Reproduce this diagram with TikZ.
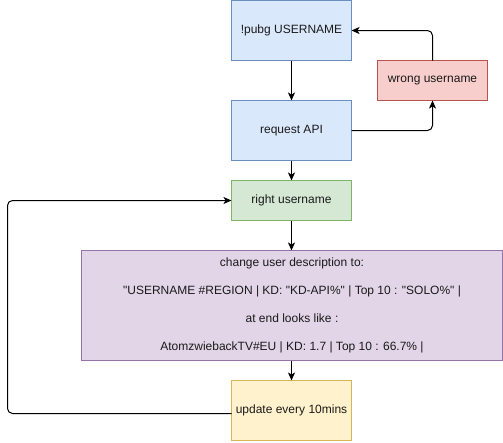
\documentclass[tikz,border=0pt]{standalone}
\usepackage{fontspec}
\setmainfont{Liberation Sans}[Ligatures=TeXOff]
\usetikzlibrary{arrows.meta}
\definecolor{bluef}{HTML}{DAE8FC}\definecolor{blued}{HTML}{6C8EBF}
\definecolor{redf}{HTML}{F8CECC}\definecolor{redd}{HTML}{B85450}
\definecolor{greenf}{HTML}{D5E8D4}\definecolor{greend}{HTML}{82B366}
\definecolor{purpf}{HTML}{E1D5E7}\definecolor{purpd}{HTML}{9673A6}
\definecolor{yelf}{HTML}{FFF2CC}\definecolor{yeld}{HTML}{D6B656}
\definecolor{txt}{HTML}{1A1A1A}
\tikzset{
  box/.style={draw, line width=1pt, inner sep=0pt, outer sep=0pt, align=center,
    font=\fontsize{12}{14}\selectfont, text=txt},
  conn/.style={line width=1pt, rounded corners=5pt, -{Stealth[length=8pt,width=7pt,inset=2pt]}}
}
\begin{document}
\begin{tikzpicture}[x=1pt,y=-1pt]
\useasboundingbox (0,0) rectangle (503,442);
\node[box, fill=bluef, draw=blued, minimum width=120pt, minimum height=60pt] (pubg) at (291.5,30.5) {!pubg USERNAME};
\node[box, fill=bluef, draw=blued, minimum width=120pt, minimum height=60pt] (req) at (291.5,130.5) {request API};
\node[box, fill=redf, draw=redd, minimum width=110pt, minimum height=40pt] (wrong) at (432.5,80.5) {wrong username};
\node[box, fill=greenf, draw=greend, minimum width=120pt, minimum height=40pt] (right) at (291.5,200.5) {right username};
\node[box, fill=purpf, draw=purpd, minimum width=421pt, minimum height=110pt, font=\fontsize{12}{28}\selectfont] (desc) at (292,305.5)
  {change user description to:\\"USERNAME \#REGION | KD: "KD-API\%" | Top 10 : "SOLO\%" |\\at end looks like :\\AtomzwiebackTV\#EU | KD: 1.7 | Top 10 : 66.7\% |};
\node[box, fill=yelf, draw=yeld, minimum width=120pt, minimum height=60pt] (upd) at (291.5,410.5) {update every 10mins};
\coordinate (c1) at (432.5,130.5);
\coordinate (c2) at (432.5,30.5);
\coordinate (c3) at (7.5,413.5);
\coordinate (c4) at (7.5,200.5);
\draw[conn] (pubg) -- (req);
\draw[conn] (req.east) -- (c1) -- (wrong.south);
\draw[conn] (wrong.north) -- (c2) -- (pubg.east);
\draw[conn] (req.south) -- (right.north);
\draw[conn] (right) -- (desc.north -| right);
\draw[conn] (desc.south -| upd) -- (upd.north);
\draw[conn] (upd.west |- c3) -- (c3) -- (c4) -- (right.west);
\end{tikzpicture}
\end{document}
